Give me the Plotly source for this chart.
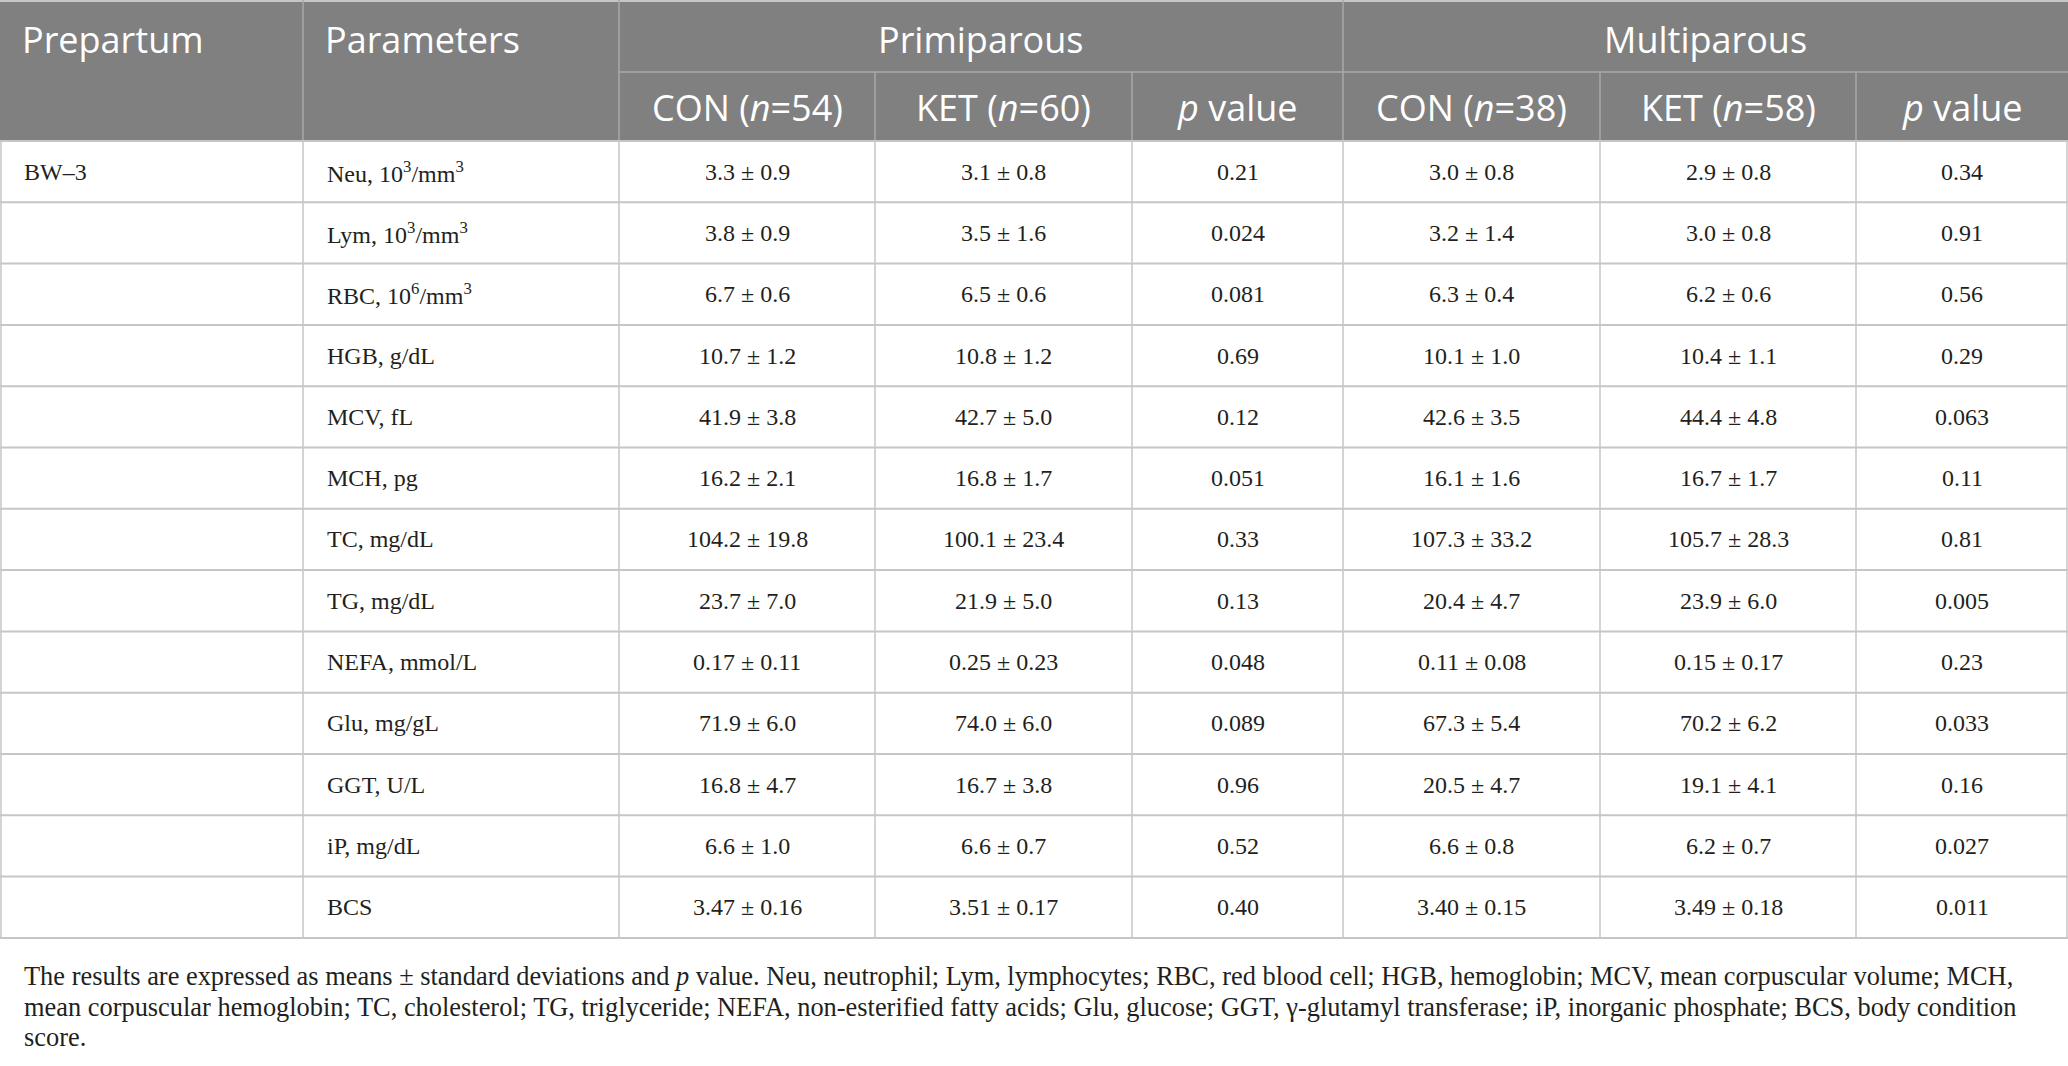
import plotly.graph_objects as go

# table content
group_labels = ["Primiparous", "Multiparous"]
sub_labels = ["CON (<i>n</i>=54)", "KET (<i>n</i>=60)", "<i>p</i> value",
              "CON (<i>n</i>=38)", "KET (<i>n</i>=58)", "<i>p</i> value"]
period = "BW–3"
params = ["Neu, 10<sup>3</sup>/mm<sup>3</sup>", "Lym, 10<sup>3</sup>/mm<sup>3</sup>",
          "RBC, 10<sup>6</sup>/mm<sup>3</sup>", "HGB, g/dL", "MCV, fL", "MCH, pg",
          "TC, mg/dL", "TG, mg/dL", "NEFA, mmol/L", "Glu, mg/gL", "GGT, U/L",
          "iP, mg/dL", "BCS"]
prim_con = ["3.3 ± 0.9", "3.8 ± 0.9", "6.7 ± 0.6", "10.7 ± 1.2", "41.9 ± 3.8", "16.2 ± 2.1",
            "104.2 ± 19.8", "23.7 ± 7.0", "0.17 ± 0.11", "71.9 ± 6.0", "16.8 ± 4.7",
            "6.6 ± 1.0", "3.47 ± 0.16"]
prim_ket = ["3.1 ± 0.8", "3.5 ± 1.6", "6.5 ± 0.6", "10.8 ± 1.2", "42.7 ± 5.0", "16.8 ± 1.7",
            "100.1 ± 23.4", "21.9 ± 5.0", "0.25 ± 0.23", "74.0 ± 6.0", "16.7 ± 3.8",
            "6.6 ± 0.7", "3.51 ± 0.17"]
prim_p = ["0.21", "0.024", "0.081", "0.69", "0.12", "0.051", "0.33", "0.13", "0.048",
          "0.089", "0.96", "0.52", "0.40"]
multi_con = ["3.0 ± 0.8", "3.2 ± 1.4", "6.3 ± 0.4", "10.1 ± 1.0", "42.6 ± 3.5", "16.1 ± 1.6",
             "107.3 ± 33.2", "20.4 ± 4.7", "0.11 ± 0.08", "67.3 ± 5.4", "20.5 ± 4.7",
             "6.6 ± 0.8", "3.40 ± 0.15"]
multi_ket = ["2.9 ± 0.8", "3.0 ± 0.8", "6.2 ± 0.6", "10.4 ± 1.1", "44.4 ± 4.8", "16.7 ± 1.7",
             "105.7 ± 28.3", "23.9 ± 6.0", "0.15 ± 0.17", "70.2 ± 6.2", "19.1 ± 4.1",
             "6.2 ± 0.7", "3.49 ± 0.18"]
multi_p = ["0.34", "0.91", "0.56", "0.29", "0.063", "0.11", "0.81", "0.005", "0.23",
           "0.033", "0.16", "0.027", "0.011"]
footnote = [
    "The results are expressed as means ± standard deviations and <i>p</i> value. Neu, neutrophil; "
    "Lym, lymphocytes; RBC, red blood cell; HGB, hemoglobin; MCV, mean corpuscular volume; MCH,",
    "mean corpuscular hemoglobin; TC, cholesterol; TG, triglyceride; NEFA, non-esterified fatty acids; "
    "Glu, glucose; GGT, γ-glutamyl transferase; iP, inorganic phosphate; BCS, body condition",
    "score.",
]

# layout of the grid (pixels)
W, H = 2068, 1066
col_x = [0, 303, 619, 875, 1132, 1343, 1600, 1856, 2068]
head_mid = 72
head_bot = 141
row_h = 61.3
n_rows = len(params)
table_bot = head_bot + row_h * n_rows

head_bg = "#808080"
head_line = "#a8a8a8"
body_line = "#c6c6c6"
txt = "#231f20"
sans = "Open Sans"
serif = "Liberation Serif"

fig = go.Figure()
shapes = []
ann = []

# header background
shapes.append(dict(type="rect", x0=0, x1=W, y0=0, y1=head_bot, fillcolor=head_bg,
                   line=dict(width=0), layer="below"))
shapes.append(dict(type="line", x0=0, x1=W, y0=1, y1=1, line=dict(color=body_line, width=2)))
# header lines
shapes.append(dict(type="line", x0=col_x[2], x1=W, y0=head_mid, y1=head_mid,
                   line=dict(color=head_line, width=1.5)))
for i in [1, 2, 5]:
    shapes.append(dict(type="line", x0=col_x[i], x1=col_x[i], y0=0, y1=head_bot,
                       line=dict(color=head_line, width=1.5)))
for i in [3, 4, 6, 7]:
    shapes.append(dict(type="line", x0=col_x[i], x1=col_x[i], y0=head_mid, y1=head_bot,
                       line=dict(color=head_line, width=1.5)))

# body grid
for r in range(n_rows + 1):
    y = head_bot + r * row_h
    shapes.append(dict(type="line", x0=0, x1=W, y0=y, y1=y, line=dict(color=body_line, width=2)))
for i, x in enumerate(col_x):
    x = min(max(x, 1), W - 1)
    shapes.append(dict(type="line", x0=x, x1=x, y0=head_bot, y1=table_bot,
                       line=dict(color=body_line, width=1.5)))

# header text
hfont = dict(family=sans, size=36, color="white")
y_top = head_mid / 2 + 3
ann.append(dict(x=20, y=y_top, text="Prepartum", xanchor="left", font=hfont))
ann.append(dict(x=col_x[1] + 20, y=y_top, text="Parameters", xanchor="left", font=hfont))
ann.append(dict(x=(col_x[2] + col_x[5]) / 2, y=y_top, text=group_labels[0], font=hfont))
ann.append(dict(x=(col_x[5] + col_x[8]) / 2, y=y_top, text=group_labels[1], font=hfont))
for j, lab in enumerate(sub_labels):
    ann.append(dict(x=(col_x[j + 2] + col_x[j + 3]) / 2, y=(head_mid + head_bot) / 2 + 1,
                    text=lab, font=hfont))

# body text
bfont = dict(family=serif, size=24, color=txt)
ann.append(dict(x=22, y=head_bot + row_h / 2, text=period, xanchor="left", font=bfont))
columns = [prim_con, prim_ket, prim_p, multi_con, multi_ket, multi_p]
for r in range(n_rows):
    yc = head_bot + row_h * (r + 0.5)
    ann.append(dict(x=col_x[1] + 22, y=yc, text=params[r], xanchor="left", font=bfont))
    for j, col in enumerate(columns):
        ann.append(dict(x=(col_x[j + 2] + col_x[j + 3]) / 2, y=yc, text=col[r], font=bfont))

# footnote
ffont = dict(family=serif, size=26.4, color=txt)
for k, line in enumerate(footnote):
    ann.append(dict(x=22, y=976 + 30.5 * k, text=line, xanchor="left", font=ffont))

for a in ann:
    a.update(xref="x", yref="y", showarrow=False, yanchor="middle")

fig.update_layout(
    width=W, height=H,
    margin=dict(l=0, r=0, t=0, b=0),
    paper_bgcolor="white", plot_bgcolor="white",
    xaxis=dict(range=[0, W], visible=False, fixedrange=True),
    yaxis=dict(range=[H, 0], visible=False, fixedrange=True),
    shapes=shapes, annotations=ann, showlegend=False,
    hovermode=False,
)

# drop the default page margin so the table sits flush with the window
fig.write_html("out.html", config={"displayModeBar": False},
               post_script="document.body.style.margin='0px';")
